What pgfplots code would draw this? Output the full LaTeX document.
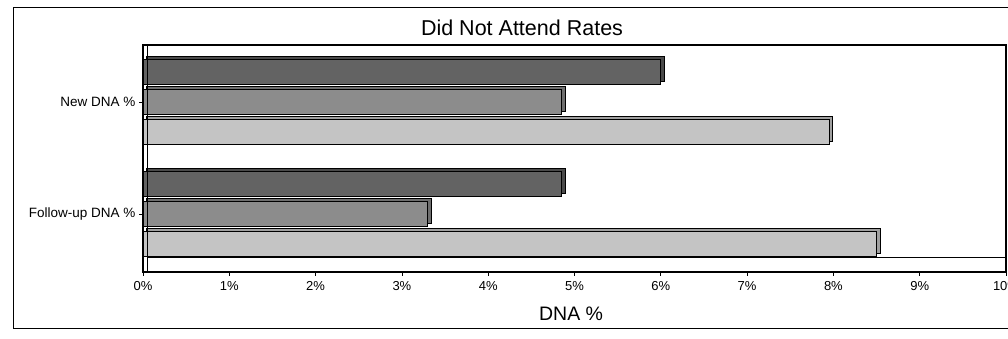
\documentclass[border=0pt]{standalone}
\usepackage{fontspec}
\setmainfont{Liberation Sans}
\usepackage{pgfplots}
\pgfplotsset{compat=1.18}
\definecolor{cdark}{HTML}{636363}
\definecolor{cmid}{HTML}{8C8C8C}
\definecolor{clight}{HTML}{C4C4C4}
\definecolor{cdarks}{HTML}{4A4A4A}
\definecolor{cmids}{HTML}{6E6E6E}
\definecolor{clights}{HTML}{A0A0A0}
\begin{document}
\begin{tikzpicture}[x=1pt,y=1pt]
\useasboundingbox (0,0) rectangle (1008,339);
\clip (0,0) rectangle (1008,339);
\draw[line width=1pt] (13,10) rectangle (1030,331);
\node[font=\fontsize{21.5}{24}\selectfont] at (522,311) {Did Not Attend Rates};
\begin{axis}[
  at={(143pt,67pt)}, anchor=south west,
  scale only axis, width=863pt, height=227pt,
  xmin=0, xmax=10, ymin=0, ymax=227,
  xtick={0,1,...,10},
  xticklabels={0\%,1\%,2\%,3\%,4\%,5\%,6\%,7\%,8\%,9\%,10\%},
  ytick={58,170},
  yticklabels={Follow-up DNA \%,New DNA \%},
  xtick pos=lower, ytick pos=left,
  tick align=outside, major tick length=4pt,
  tick style={black, line width=0.8pt},
  axis line style={line width=1.1pt},
  x tick label style={font=\fontsize{13}{15}\selectfont, yshift=-2pt},
  y tick label style={font=\fontsize{13.5}{15}\selectfont},
  xlabel={DNA \%},
  xlabel style={font=\fontsize{19.5}{22}\selectfont, at={(axis description cs:0.496,-0.185)}, anchor=center},
  clip=false,
  bar width=25,
]
% 3-D depth faces
\addplot[xbar, bar shift=30, fill=cdarks, draw=black, line width=0.8pt, transform canvas={xshift=3.5pt,yshift=3pt}] coordinates {(6.0,170) (4.85,58)};
\addplot[xbar, bar shift=0, fill=cmids, draw=black, line width=0.8pt, transform canvas={xshift=3.5pt,yshift=3pt}] coordinates {(4.85,170) (3.3,58)};
\addplot[xbar, bar shift=-30, fill=clights, draw=black, line width=0.8pt, transform canvas={xshift=3.5pt,yshift=3pt}] coordinates {(7.95,170) (8.5,58)};
% front faces
\addplot[xbar, bar shift=30, fill=cdark, draw=black, line width=0.8pt] coordinates {(6.0,170) (4.85,58)};
\addplot[xbar, bar shift=0, fill=cmid, draw=black, line width=0.8pt] coordinates {(4.85,170) (3.3,58)};
\addplot[xbar, bar shift=-30, fill=clight, draw=black, line width=0.8pt] coordinates {(7.95,170) (8.5,58)};
\draw[line width=0.7pt] (axis cs:0.05,0) -- (axis cs:0.05,227);
\draw[line width=0.7pt] (axis cs:0.05,15) -- (axis cs:10,15);
\end{axis}
\end{tikzpicture}
\end{document}
